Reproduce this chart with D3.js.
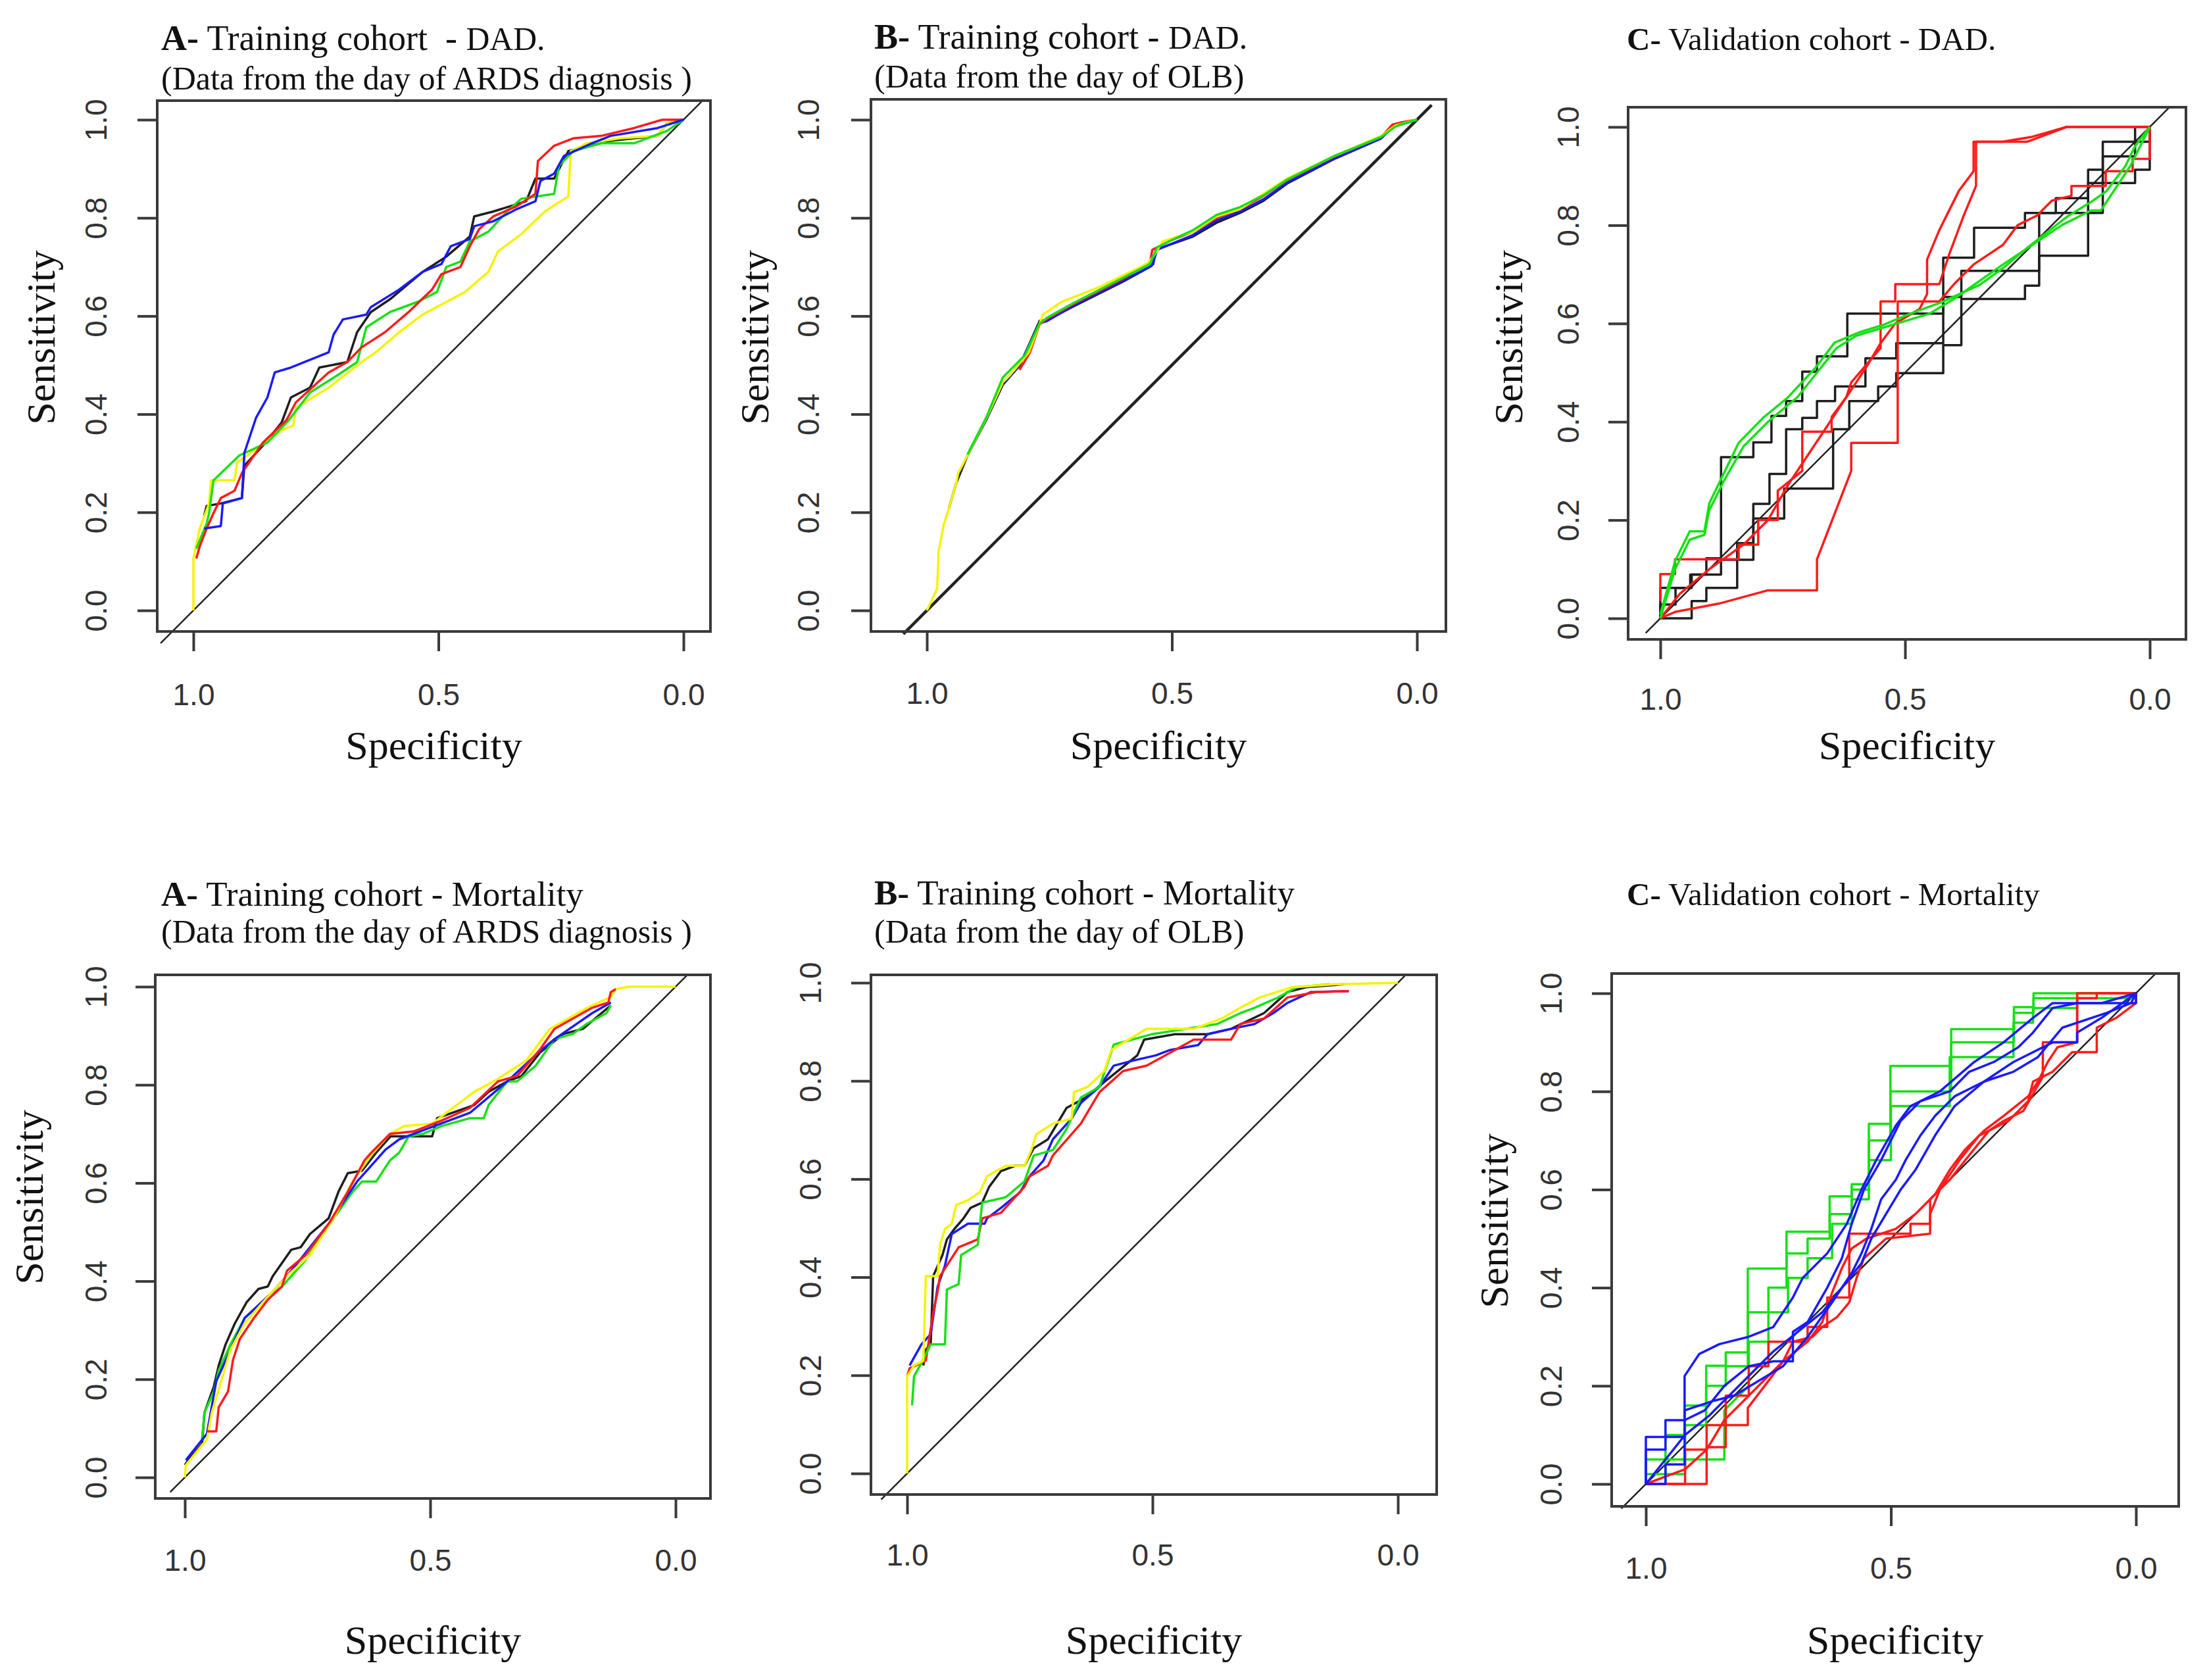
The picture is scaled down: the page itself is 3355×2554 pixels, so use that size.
<!DOCTYPE html>
<html>
<head>
<meta charset="utf-8">
<script src="https://cdn.jsdelivr.net/npm/d3@7"></script>
<style>
  body { margin: 0; background: #fff; }
  text { white-space: pre; }
</style>
</head>
<body>
<div id="chart"></div>
<script>
// Tick values shared by every panel
const specTicks = [1.0, 0.5, 0.0];
const sensTicks = [0.0, 0.2, 0.4, 0.6, 0.8, 1.0];

// Each curve: [specificity, sensitivity] points

// A - Training cohort - DAD (day of ARDS diagnosis)
const dadA_black = [[.978,.193],[.973,.213],[.944,.218],[.901,.229],[.896,.295],[.858,.336],[.820,.383],[.801,.434],[.762,.454],[.743,.495],[.686,.506],[.666,.567],[.638,.608],[.599,.634],[.532,.690],[.484,.721],[.436,.762],[.427,.803],[.388,.813],[.321,.834],[.302,.880],[.264,.880],[.235,.936],[.149,.957],[.053,.967],[.034,.992],[0,1]];
const dadA_yellow = [[1,0],[1,.106],[.987,.167],[.968,.218],[.964,.265],[.916,.265],[.911,.301],[.820,.367],[.796,.377],[.791,.413],[.724,.454],[.657,.506],[.628,.526],[.580,.567],[.532,.603],[.446,.649],[.398,.690],[.379,.731],[.331,.767],[.283,.813],[.235,.844],[.230,.936],[.197,.952],[.129,.962],[.053,.967],[.034,.992],[0,1]];
const dadA_green = [[.994,.126],[.973,.177],[.968,.198],[.959,.265],[.906,.316],[.849,.342],[.805,.388],[.762,.444],[.705,.480],[.666,.506],[.647,.577],[.599,.608],[.542,.629],[.503,.649],[.484,.700],[.455,.711],[.436,.752],[.398,.772],[.360,.813],[.331,.839],[.264,.849],[.254,.906],[.225,.936],[.168,.952],[.101,.952],[.034,.977],[0,1]];
const dadA_red = [[.994,.106],[.987,.131],[.973,.167],[.959,.198],[.944,.229],[.916,.244],[.901,.280],[.858,.342],[.810,.388],[.791,.424],[.724,.485],[.686,.506],[.657,.536],[.609,.567],[.561,.608],[.513,.654],[.494,.685],[.455,.700],[.436,.742],[.417,.777],[.388,.803],[.340,.824],[.302,.849],[.297,.916],[.264,.947],[.225,.962],[.168,.967],[.101,.983],[.043,1],[0,1]];
const dadA_blue = [[.978,.167],[.944,.172],[.940,.218],[.901,.229],[.896,.321],[.872,.393],[.849,.434],[.834,.485],[.801,.495],[.724,.526],[.714,.562],[.695,.593],[.647,.603],[.638,.618],[.580,.654],[.532,.690],[.494,.706],[.475,.742],[.436,.757],[.427,.783],[.388,.793],[.340,.818],[.302,.834],[.292,.875],[.264,.890],[.244,.926],[.187,.952],[.149,.967],[.053,.983],[0,1]];

// B - Training cohort - DAD (day of OLB)
const dadB_black = [[.955,.208],[.940,.260],[.917,.316],[.878,.390],[.845,.460],[.810,.500],[.770,.590],[.754,.592],[.700,.620],[.600,.670],[.545,.700],[.538,.706],[.533,.735],[.457,.762],[.409,.790],[.361,.810],[.313,.835],[.265,.870],[.169,.920],[.073,.962],[.050,.985],[0,1]];
const dadB_blue = [[.917,.316],[.878,.392],[.845,.463],[.811,.500],[.770,.585],[.754,.590],[.700,.622],[.600,.672],[.542,.702],[.538,.710],[.530,.735],[.457,.765],[.409,.795],[.361,.813],[.313,.838],[.265,.872],[.169,.921],[.073,.962],[.050,.985],[0,1]];
const dadB_red = [[.811,.490],[.790,.525],[.770,.583],[.754,.595],[.700,.625],[.600,.676],[.545,.708],[.540,.735],[.500,.755],[.457,.772],[.409,.800],[.361,.818],[.313,.845],[.265,.877],[.169,.925],[.073,.965],[.050,.990],[.030,.995],[0,1]];
const dadB_yellow = [[1,0],[.979,.044],[.976,.121],[.965,.177],[.955,.208],[.940,.260],[.936,.280],[.917,.316],[.878,.393],[.845,.465],[.830,.480],[.792,.526],[.763,.603],[.725,.629],[.648,.659],[.552,.706],[.538,.721],[.519,.752],[.457,.772],[.409,.803],[.361,.818],[.313,.849],[.265,.880],[.169,.926],[.073,.967],[.044,.988],[.020,.995],[0,1]];
const dadB_green = [[.917,.318],[.878,.395],[.845,.475],[.830,.490],[.800,.520],[.770,.585],[.754,.597],[.700,.627],[.600,.678],[.545,.706],[.530,.740],[.500,.755],[.457,.775],[.409,.806],[.361,.822],[.313,.846],[.265,.878],[.169,.926],[.073,.965],[.045,.985],[.035,.990],[0,1]];

// C - Validation cohort - DAD
const dadC_black1 = [[1,0],[1,.062],[.939,.062],[.939,.089],[.906,.089],[.906,.122],[.876,.122],[.876,.328],[.810,.328],[.810,.358],[.773,.358],[.773,.412],[.743,.412],[.743,.442],[.710,.442],[.710,.502],[.680,.502],[.680,.533],[.618,.533],[.618,.620],[.422,.620],[.422,.734],[.359,.734],[.359,.795],[.255,.795],[.255,.825],[.192,.825],[.192,.855],[.126,.855],[.126,.913],[.096,.913],[.096,.970],[0,.970],[0,1]];
const dadC_black2 = [[1,0],[1,.028],[.969,.028],[.969,.062],[.936,.062],[.936,.089],[.876,.089],[.876,.119],[.843,.119],[.843,.153],[.810,.153],[.810,.233],[.777,.233],[.777,.294],[.743,.294],[.743,.385],[.710,.385],[.710,.408],[.680,.408],[.680,.442],[.643,.442],[.643,.472],[.581,.472],[.581,.529],[.518,.529],[.518,.560],[.422,.560],[.422,.654],[.385,.654],[.385,.707],[.226,.707],[.226,.825],[.126,.825],[.126,.886],[.096,.886],[.096,.940],[.030,.940],[.030,1],[0,1]];
const dadC_black3 = [[1,0],[.936,0],[.936,.035],[.906,.035],[.906,.062],[.843,.062],[.843,.119],[.810,.119],[.810,.203],[.747,.203],[.747,.264],[.647,.264],[.647,.385],[.614,.385],[.614,.442],[.555,.442],[.555,.472],[.518,.472],[.518,.499],[.422,.499],[.422,.556],[.385,.556],[.385,.650],[.255,.650],[.255,.677],[.226,.677],[.226,.738],[.126,.738],[.126,.825],[.096,.825],[.096,.886],[.030,.886],[.030,.913],[0,.913],[0,1]];
const dadC_red1 = [[1,0],[.970,.013],[.880,.030],[.780,.057],[.680,.057],[.680,.120],[.610,.300],[.610,.357],[.515,.357],[.515,.645],[.430,.645],[.400,.680],[.360,.720],[.300,.760],[.270,.800],[.230,.820],[.200,.850],[.160,.860],[.160,.880],[.090,.880],[.090,.910],[.035,.910],[.035,.935],[0,.935],[0,1]];
const dadC_red2 = [[1,.035],[1,.090],[.970,.090],[.970,.120],[.840,.120],[.840,.150],[.800,.150],[.800,.200],[.760,.200],[.760,.260],[.710,.300],[.710,.380],[.650,.380],[.650,.410],[.620,.450],[.610,.480],[.550,.550],[.550,.645],[.520,.645],[.520,.680],[.430,.680],[.410,.740],[.380,.820],[.355,.880],[.355,.970],[.300,.970],[.240,.980],[.170,1],[0,1]];
const dadC_red3 = [[1,0],[.960,.050],[.900,.100],[.830,.150],[.780,.200],[.740,.270],[.700,.330],[.660,.390],[.620,.450],[.580,.510],[.550,.560],[.520,.600],[.470,.630],[.455,.660],[.455,.730],[.430,.790],[.390,.870],[.360,.910],[.360,.970],[.310,.970],[.250,.970],[.170,1],[0,1]];
const dadC_green1 = [[1,.008],[.970,.116],[.940,.177],[.910,.177],[.900,.234],[.880,.275],[.840,.357],[.790,.408],[.740,.449],[.683,.510],[.644,.561],[.594,.582],[.545,.597],[.495,.618],[.426,.643],[.347,.679],[.297,.715],[.248,.756],[.168,.818],[.119,.848],[.089,.869],[.050,.920],[.030,.961],[0,1]];
const dadC_green2 = [[1,0],[.970,.100],[.940,.160],[.910,.170],[.900,.220],[.870,.280],[.830,.350],[.780,.400],[.720,.450],[.680,.500],[.640,.550],[.600,.575],[.550,.590],[.500,.605],[.450,.620],[.400,.650],[.350,.685],[.300,.720],[.240,.760],[.180,.800],[.120,.830],[.100,.830],[.080,.860],[.040,.920],[.020,.960],[0,1]];

// A - Training cohort - Mortality (day of ARDS diagnosis)
const morA_black = [[1,.025],[.993,.035],[.965,.068],[.960,.132],[.941,.185],[.931,.228],[.917,.271],[.898,.314],[.874,.357],[.850,.384],[.831,.389],[.821,.410],[.783,.464],[.764,.469],[.745,.496],[.707,.528],[.687,.582],[.668,.620],[.639,.625],[.610,.662],[.581,.695],[.496,.695],[.486,.732],[.410,.759],[.381,.786],[.343,.807],[.314,.818],[.276,.866],[.228,.904],[.189,.914],[.151,.946],[.132,.962]];
const morA_green = [[.965,.078],[.960,.132],[.941,.175],[.931,.218],[.907,.271],[.878,.325],[.840,.357],[.802,.389],[.754,.443],[.697,.528],[.658,.582],[.639,.603],[.610,.603],[.582,.646],[.563,.662],[.544,.695],[.515,.700],[.477,.716],[.419,.732],[.391,.732],[.381,.759],[.343,.807],[.323,.807],[.285,.839],[.247,.893],[.209,.904],[.180,.925],[.141,.946],[.132,.962]];
const morA_blue = [[.998,.035],[.955,.089],[.936,.196],[.907,.260],[.878,.325],[.821,.378],[.783,.421],[.706,.518],[.649,.603],[.591,.668],[.563,.689],[.505,.711],[.419,.743],[.381,.775],[.343,.807],[.285,.861],[.247,.893],[.170,.946],[.132,.968]];
const morA_yellow = [[1,0],[.998,.025],[.955,.078],[.945,.132],[.926,.196],[.907,.260],[.878,.314],[.831,.368],[.792,.410],[.745,.453],[.697,.528],[.658,.603],[.620,.657],[.582,.700],[.553,.716],[.496,.721],[.410,.786],[.362,.812],[.304,.850],[.256,.914],[.180,.957],[.132,.979],[.122,.995],[.094,1],[0,1]];
const morA_red = [[.955,.094],[.936,.094],[.931,.143],[.912,.175],[.902,.239],[.888,.282],[.859,.325],[.831,.362],[.802,.389],[.792,.421],[.754,.453],[.706,.518],[.668,.582],[.634,.646],[.620,.662],[.582,.700],[.534,.705],[.477,.727],[.419,.753],[.362,.807],[.323,.818],[.277,.871],[.247,.914],[.170,.957],[.137,.968],[.132,.989],[.122,.995]];

// B - Training cohort - Mortality (day of OLB)
const morB_black = [[.967,.220],[.962,.252],[.952,.263],[.947,.402],[.928,.445],[.919,.477],[.904,.498],[.885,.520],[.871,.541],[.847,.552],[.833,.584],[.809,.616],[.780,.627],[.761,.627],[.742,.663],[.713,.681],[.675,.745],[.636,.766],[.598,.798],[.531,.852],[.517,.884],[.455,.895],[.388,.895],[.340,.906],[.273,.938],[.225,.981],[.187,.991],[.110,.997]];
const morB_blue = [[.995,.220],[.971,.263],[.952,.284],[.938,.380],[.923,.423],[.909,.488],[.876,.509],[.842,.509],[.837,.520],[.809,.541],[.770,.573],[.751,.605],[.722,.638],[.703,.681],[.665,.723],[.646,.755],[.608,.788],[.579,.831],[.541,.841],[.493,.852],[.464,.863],[.407,.873],[.388,.895],[.340,.906],[.292,.916],[.254,.938],[.225,.959],[.177,.981],[.100,.983]];
const morB_red = [[1,.198],[.995,.214],[.962,.230],[.947,.327],[.938,.370],[.933,.402],[.895,.461],[.856,.477],[.847,.520],[.809,.531],[.761,.584],[.751,.605],[.713,.627],[.703,.648],[.646,.713],[.608,.777],[.560,.820],[.512,.831],[.474,.852],[.416,.884],[.340,.884],[.321,.916],[.273,.927],[.225,.970],[.167,.981],[.100,.983]];
const morB_green = [[.990,.139],[.986,.198],[.971,.225],[.952,.263],[.923,.263],[.919,.375],[.895,.386],[.890,.445],[.856,.466],[.847,.552],[.799,.563],[.761,.595],[.742,.648],[.703,.659],[.675,.702],[.646,.766],[.608,.788],[.579,.874],[.502,.895],[.368,.916],[.321,.938],[.292,.949],[.244,.970],[.206,.991],[.139,.997]];
const morB_yellow = [[1,0],[1,.198],[.986,.220],[.967,.230],[.962,.402],[.938,.402],[.933,.466],[.923,.498],[.909,.509],[.900,.547],[.876,.557],[.852,.573],[.837,.606],[.799,.627],[.761,.627],[.747,.659],[.737,.691],[.703,.713],[.665,.723],[.660,.777],[.632,.788],[.598,.820],[.584,.863],[.512,.906],[.416,.906],[.359,.927],[.321,.949],[.282,.970],[.215,.991],[.129,.997],[0,1]];

// C - Validation cohort - Mortality
const morC_green1 = [[1,0],[.960,0],[.960,.020],[.920,.020],[.920,.050],[.840,.050],[.840,.150],[.790,.200],[.790,.290],[.750,.290],[.750,.350],[.710,.350],[.710,.420],[.670,.420],[.670,.460],[.620,.460],[.620,.530],[.580,.530],[.580,.580],[.545,.580],[.545,.660],[.500,.660],[.500,.770],[.380,.770],[.380,.870],[.250,.870],[.250,.940],[.210,.940],[.210,.970],[.120,.970],[.120,1],[0,1]];
const morC_green2 = [[1,0],[1,.020],[.960,.020],[.960,.050],[.920,.050],[.920,.120],[.877,.120],[.877,.200],[.837,.200],[.837,.240],[.792,.240],[.792,.350],[.750,.350],[.750,.400],[.713,.400],[.713,.470],[.670,.470],[.670,.500],[.625,.500],[.625,.550],[.580,.550],[.580,.600],[.545,.600],[.545,.700],[.501,.700],[.501,.800],[.377,.800],[.377,.900],[.249,.900],[.249,.960],[.209,.960],[.209,.990],[0,.990],[0,1]];
const morC_green3 = [[1,0],[1,.050],[.960,.050],[.960,.100],[.921,.100],[.921,.160],[.877,.160],[.877,.241],[.837,.241],[.837,.268],[.792,.268],[.792,.439],[.713,.439],[.713,.514],[.625,.514],[.625,.586],[.580,.586],[.580,.611],[.545,.611],[.545,.734],[.501,.734],[.501,.852],[.377,.852],[.377,.927],[.249,.927],[.249,.972],[.209,.972],[.209,1],[0,1]];
const morC_red1 = [[1,0],[.876,0],[.876,.075],[.837,.075],[.837,.120],[.792,.120],[.792,.155],[.750,.210],[.720,.250],[.700,.290],[.660,.300],[.640,.320],[.610,.340],[.585,.370],[.570,.420],[.555,.460],[.510,.500],[.420,.510],[.420,.550],[.400,.600],[.360,.660],[.320,.710],[.260,.740],[.220,.780],[.210,.820],[.170,.840],[.130,.880],[.080,.880],[.080,.930],[.040,.950],[0,.980],[0,1]];
const morC_red2 = [[1,0],[.920,.030],[.876,.070],[.840,.130],[.800,.170],[.760,.210],[.720,.250],[.670,.290],[.640,.330],[.620,.390],[.600,.440],[.580,.480],[.550,.500],[.490,.520],[.450,.550],[.410,.590],[.380,.640],[.350,.680],[.310,.720],[.270,.750],[.220,.790],[.200,.820],[.180,.860],[.160,.890],[.120,.900],[.120,.990],[.080,.990],[.080,1],[0,1]];
const morC_red3 = [[1,0],[.920,0],[.920,.070],[.876,.070],[.876,.120],[.837,.120],[.837,.180],[.790,.180],[.790,.240],[.750,.240],[.750,.290],[.670,.290],[.670,.320],[.630,.320],[.630,.380],[.585,.380],[.585,.510],[.460,.510],[.460,.530],[.420,.530],[.420,.580],[.380,.620],[.340,.670],[.300,.720],[.270,.740],[.230,.760],[.190,.830],[.190,.900],[.120,.900],[.120,1],[0,1]];
const morC_blue1 = [[1,0],[1,.096],[.921,.096],[.921,.220],[.891,.265],[.850,.285],[.790,.300],[.740,.320],[.700,.380],[.680,.420],[.630,.470],[.590,.530],[.560,.600],[.530,.660],[.490,.730],[.460,.770],[.400,.800],[.330,.860],[.270,.900],[.210,.950],[.170,.980],[.070,.980],[0,1]];
const morC_blue2 = [[1,0],[1,.070],[.960,.070],[.960,.130],[.921,.130],[.880,.150],[.840,.200],[.790,.240],[.740,.250],[.700,.250],[.700,.310],[.670,.330],[.630,.400],[.600,.460],[.580,.530],[.555,.600],[.520,.660],[.480,.740],[.440,.780],[.380,.800],[.340,.840],[.290,.860],[.240,.890],[.210,.920],[.170,.970],[.120,.980],[0,.980],[0,1]];
const morC_blue3 = [[1,0],[.960,0],[.960,.040],[.921,.040],[.921,.150],[.860,.170],[.820,.180],[.770,.210],[.720,.240],[.670,.300],[.620,.370],[.580,.430],[.560,.470],[.540,.520],[.520,.580],[.490,.620],[.470,.660],[.440,.710],[.410,.750],[.370,.790],[.310,.820],[.250,.840],[.200,.870],[.150,.930],[.060,.960],[.010,.980],[0,1]];
const morC_blue4 = [[1,0],[.920,.100],[.870,.140],[.800,.210],[.740,.270],[.690,.310],[.640,.350],[.600,.400],[.560,.450],[.540,.500],[.510,.550],[.480,.600],[.450,.640],[.410,.710],[.370,.770],[.310,.820],[.250,.860],[.170,.900],[.120,.900],[.120,.920],[.070,.950],[0,1]];

// Constant
const width = 3355;
const height = 2554;
const colors = {black: '#1e1e1e', red: '#ff1a1a', green: '#16e016', blue: '#1a1aff', yellow: '#f4f400'};
const tickFont = '"Liberation Sans", Arial, sans-serif';
const serifFont = '"Liberation Serif", "Times New Roman", serif';
const frameColor = '#3a3a3a';
const tickLength = 30;
const curveWidth = 3.5;

// Layout of the six panels (pixels)
const panels = [
    {tag: 'A-', head: ' Training cohort  - ', tail: 'DAD.', tailScale: 0.92, sub: '(Data from the day of ARDS diagnosis )', titleSize: 54,
     titleX: 245, titleY: [76, 136], box: [239, 1080, 153, 960], xRange: [294, 1039], yRange: [928, 182],
     yLabX: 146, xLabY: 1056, sens: [61, 513], specY: 1132, diag: [1.067, -0.039], diagW: 2.5,
     curves: [[dadA_black, 'black'], [dadA_yellow, 'yellow'], [dadA_green, 'green'], [dadA_red, 'red'], [dadA_blue, 'blue']]},
    {tag: 'B-', head: ' Training cohort - ', tail: 'DAD.', tailScale: 0.92, sub: '(Data from the day of OLB)', titleSize: 54,
     titleX: 1329, titleY: [74, 133], box: [1324, 2198, 151, 960], xRange: [1409, 2154], yRange: [928, 182],
     yLabX: 1229, xLabY: 1054, sens: [1146, 513], specY: 1132, diag: [1.048, -0.030], diagW: 4.5,
     curves: [[dadB_black, 'black'], [dadB_blue, 'blue'], [dadB_red, 'red'], [dadB_yellow, 'yellow'], [dadB_green, 'green']]},
    {tag: 'C-', head: ' Validation cohort - ', tail: 'DAD.', tailScale: 1, sub: null, titleSize: 49,
     titleX: 2473, titleY: [76], box: [2475, 3323, 163, 972], xRange: [2524, 3268], yRange: [940, 193],
     yLabX: 2384, xLabY: 1063, sens: [2292, 513], specY: 1132, diag: [1.03, -0.04], diagW: 2.5,
     curves: [[dadC_black1, 'black'], [dadC_black2, 'black'], [dadC_black3, 'black'], [dadC_red1, 'red'], [dadC_red2, 'red'], [dadC_red3, 'red'], [dadC_green1, 'green'], [dadC_green2, 'green']]},
    {tag: 'A-', head: ' Training cohort - ', tail: 'Mortality', tailScale: 1, sub: '(Data from the day of ARDS diagnosis )', titleSize: 53,
     titleX: 245, titleY: [1377, 1433], box: [236, 1080, 1482, 2278], xRange: [281, 1027], yRange: [2246, 1500],
     yLabX: 146, xLabY: 2372, sens: [43, 1820], specY: 2492, diag: [1.03, -0.024], diagW: 2.5,
     curves: [[morA_black, 'black'], [morA_green, 'green'], [morA_blue, 'blue'], [morA_yellow, 'yellow'], [morA_red, 'red']]},
    {tag: 'B-', head: ' Training cohort - ', tail: 'Mortality', tailScale: 1, sub: '(Data from the day of OLB)', titleSize: 53,
     titleX: 1329, titleY: [1375, 1433], box: [1324, 2184, 1482, 2272], xRange: [1379, 2125], yRange: [2240, 1494],
     yLabX: 1232, xLabY: 2364, sens: null, specY: 2492, diag: [1.053, -0.014], diagW: 2.5,
     curves: [[morB_black, 'black'], [morB_blue, 'blue'], [morB_red, 'red'], [morB_green, 'green'], [morB_yellow, 'yellow']]},
    {tag: 'C-', head: ' Validation cohort - ', tail: 'Mortality', tailScale: 1, sub: null, titleSize: 49,
     titleX: 2473, titleY: [1376], box: [2450, 3312, 1480, 2290], xRange: [2502, 3247], yRange: [2256, 1510],
     yLabX: 2358, xLabY: 2384, sens: [2270, 1856], specY: 2492, diag: [1.05, -0.04], diagW: 2.5,
     curves: [[morC_green1, 'green'], [morC_green2, 'green'], [morC_green3, 'green'], [morC_red1, 'red'], [morC_red2, 'red'], [morC_red3, 'red'], [morC_blue1, 'blue'], [morC_blue2, 'blue'], [morC_blue3, 'blue'], [morC_blue4, 'blue']]}
];

const svg = d3.select('#chart')
    .append('svg')
        .attr('width', width)
        .attr('height', height)
        .style('background', '#fff');

const drawPanel = (p) => {
    const g = svg.append('g');
    const xScale = d3.scaleLinear().domain([1, 0]).range(p.xRange);
    const yScale = d3.scaleLinear().domain([0, 1]).range(p.yRange);
    const [bx0, bx1, by0, by1] = p.box;

    // Title
    const t1 = g.append('text')
        .attr('x', p.titleX)
        .attr('y', p.titleY[0])
        .style('font-family', serifFont)
        .style('font-size', p.titleSize + 'px')
        .attr('fill', '#111');
    t1.append('tspan').style('font-weight', 'bold').text(p.tag);
    t1.append('tspan').text(p.head);
    t1.append('tspan').style('font-size', (p.titleSize * p.tailScale) + 'px').text(p.tail);
    if (p.sub) {
        g.append('text')
            .attr('x', p.titleX)
            .attr('y', p.titleY[1])
            .style('font-family', serifFont)
            .style('font-size', '50px')
            .attr('fill', '#111')
            .text(p.sub);
    }

    // clip for the curves (the diagonal is allowed to run past the frame at the bottom)
    const clipId = 'clip' + Math.round(bx0) + '_' + Math.round(by0);
    g.append('clipPath').attr('id', clipId)
        .append('rect')
            .attr('x', bx0).attr('y', by0)
            .attr('width', bx1 - bx0).attr('height', by1 - by0);

    // Diagonal reference line
    g.append('line')
        .attr('x1', xScale(p.diag[0]))
        .attr('y1', yScale(1 - p.diag[0]))
        .attr('x2', xScale(p.diag[1]))
        .attr('y2', yScale(1 - p.diag[1]))
        .attr('stroke', '#222')
        .attr('stroke-width', p.diagW);

    // ROC curves
    const line = d3.line()
        .x(d => xScale(d[0]))
        .y(d => yScale(d[1]));

    g.append('g')
        .attr('clip-path', `url(#${clipId})`)
        .selectAll('path')
        .data(p.curves)
        .enter()
        .append('path')
            .attr('d', d => line(d[0]))
            .attr('fill', 'none')
            .attr('stroke', d => colors[d[1]])
            .attr('stroke-width', curveWidth)
            .attr('stroke-linejoin', 'round');

    // Frame
    g.append('rect')
        .attr('x', bx0).attr('y', by0)
        .attr('width', bx1 - bx0).attr('height', by1 - by0)
        .attr('fill', 'none')
        .attr('stroke', frameColor)
        .attr('stroke-width', 4);

    // X axis (ticks hang below frame)
    const xAxis = g.append('g')
        .attr('transform', `translate(0, ${by1})`)
        .call(d3.axisBottom(xScale).tickValues(specTicks).tickSize(tickLength).tickSizeOuter(0).tickFormat(d3.format('.1f')));
    xAxis.select('.domain').remove();
    xAxis.selectAll('line').attr('stroke', frameColor).attr('stroke-width', 4);
    xAxis.selectAll('text')
        .attr('y', p.xLabY - by1)
        .attr('dy', '0.35em')
        .style('font-family', tickFont)
        .style('font-size', '46px')
        .attr('fill', '#333');

    // Y axis (labels turned, as in base R)
    const yAxis = g.append('g')
        .attr('transform', `translate(${bx0}, 0)`)
        .call(d3.axisLeft(yScale).tickValues(sensTicks).tickSize(tickLength).tickSizeOuter(0).tickFormat(d3.format('.1f')));
    yAxis.select('.domain').remove();
    yAxis.selectAll('line').attr('stroke', frameColor).attr('stroke-width', 4);
    yAxis.selectAll('text')
        .attr('x', 0)
        .attr('dy', '0.35em')
        .attr('transform', `translate(${p.yLabX - bx0}, 0) rotate(-90)`)
        .style('text-anchor', 'middle')
        .style('font-family', tickFont)
        .style('font-size', '46px')
        .attr('fill', '#333');

    // Axis titles
    g.append('text')
        .attr('x', (bx0 + bx1) / 2)
        .attr('y', p.specY)
        .attr('dy', '0.35em')
        .style('text-anchor', 'middle')
        .style('font-family', serifFont)
        .style('font-size', '62px')
        .attr('fill', '#111')
        .text('Specificity');

    if (p.sens) {
        g.append('text')
            .attr('transform', `translate(${p.sens[0]}, ${p.sens[1]}) rotate(-90)`)
            .attr('dy', '0.35em')
            .style('text-anchor', 'middle')
            .style('font-family', serifFont)
            .style('font-size', '62px')
            .attr('fill', '#111')
            .text('Sensitivity');
    }
};

panels.forEach(drawPanel);
</script>
</body>
</html>
